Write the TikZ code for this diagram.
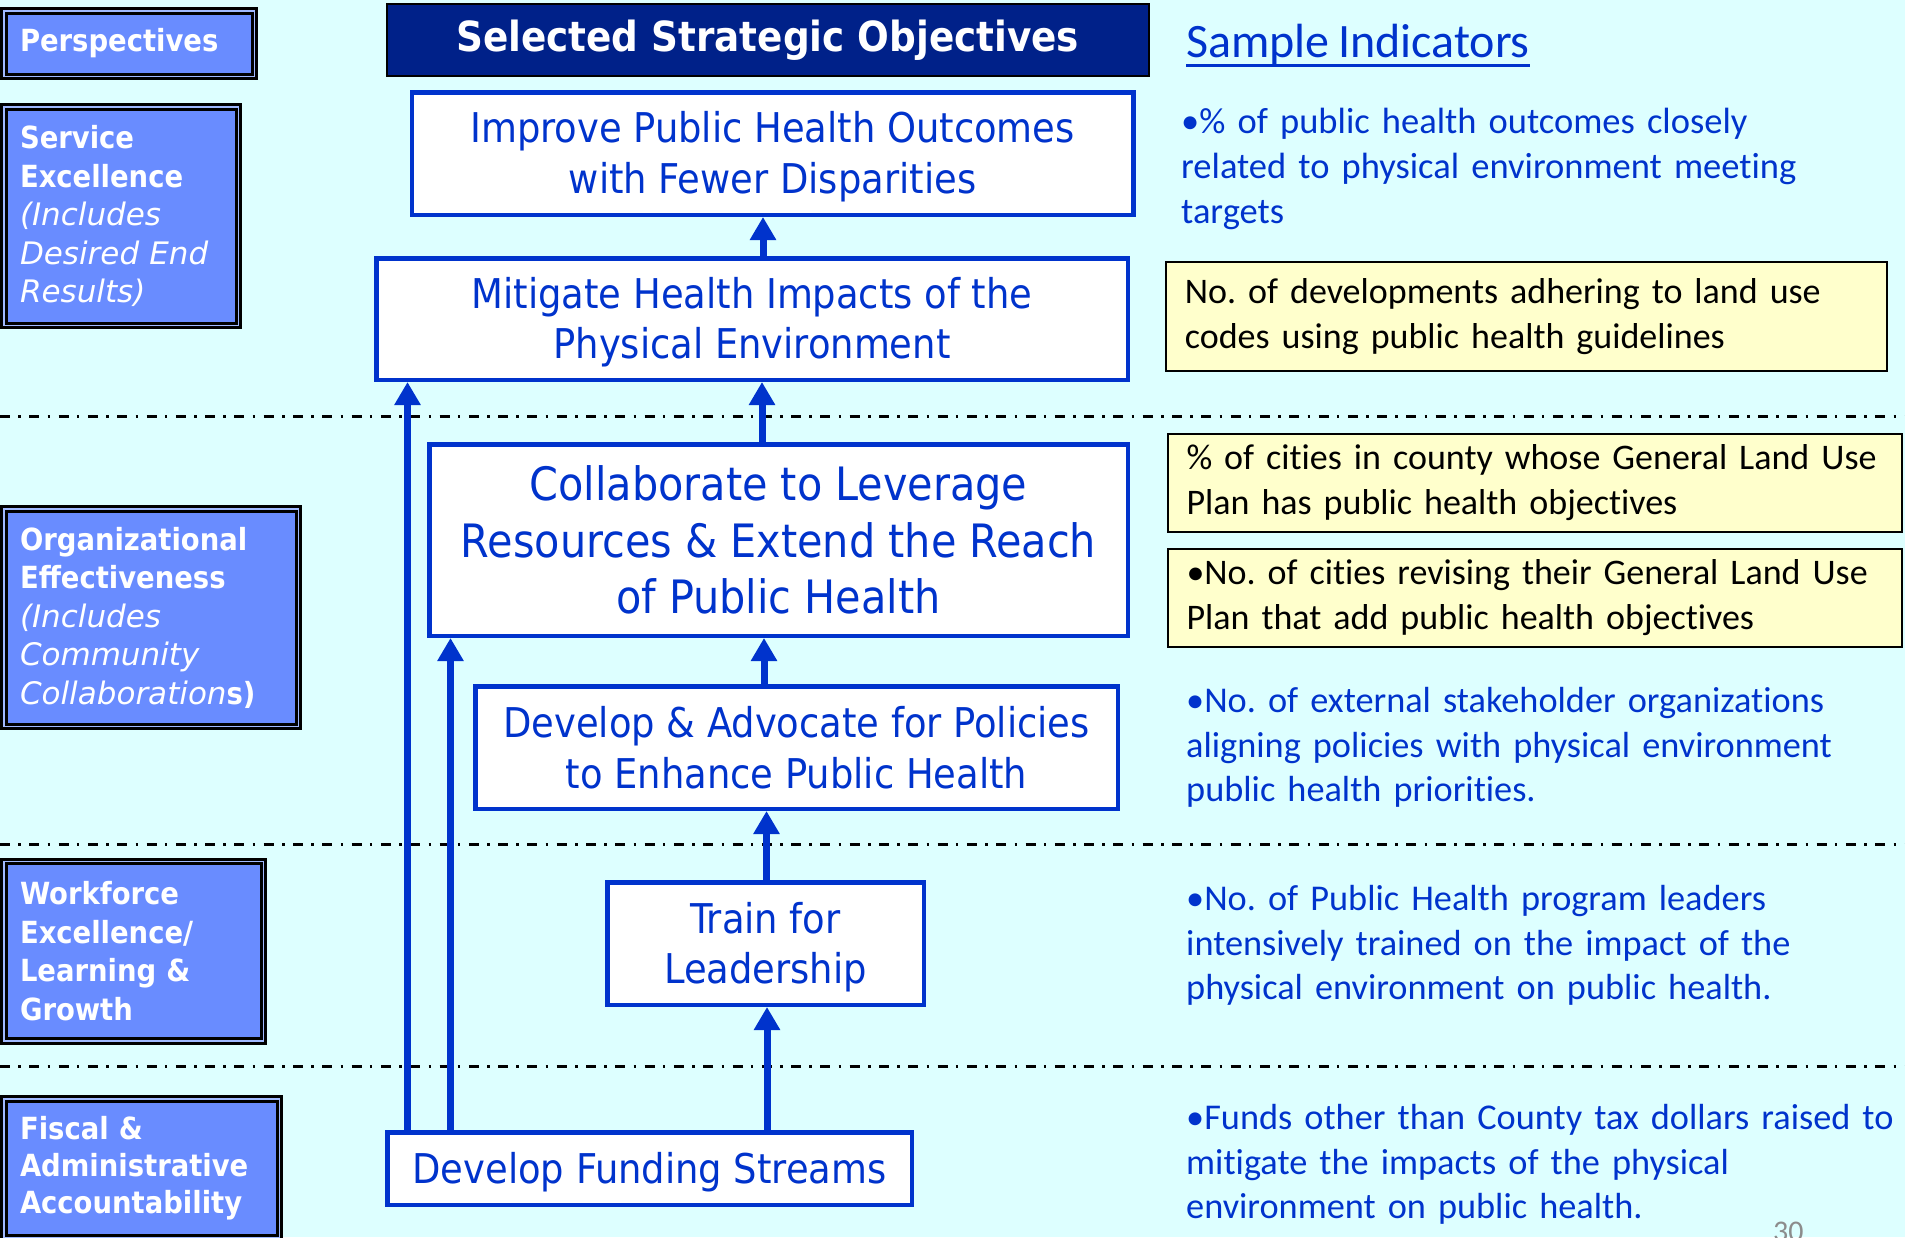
\documentclass[tikz,border=0pt]{standalone}
\usepackage{fontspec}
\usetikzlibrary{arrows.meta}
\newfontfamily\tahfont{DejaVu Sans Condensed}[BoldFont={DejaVu Sans Condensed Bold}]
\newfontfamily\verfont{DejaVu Sans}
\newfontfamily\calfont{Carlito}[Ligatures={NoCommon}, WordSpace=0.78]
\definecolor{bgcyan}{RGB}{221,255,255}
\definecolor{perspfill}{RGB}{105,140,255}
\definecolor{perspgap}{RGB}{160,185,255}
\definecolor{navy}{RGB}{0,33,137}
\definecolor{objblue}{RGB}{0,51,204}
\definecolor{yfill}{RGB}{255,255,204}
\definecolor{pagegray}{RGB}{140,140,140}
\frenchspacing
\begin{document}
\begin{tikzpicture}[x=1pt,y=-1pt,
  persp/.style={draw=black, line width=3pt, double=perspgap, double distance=1.5pt,
    fill=perspfill, text=white, align=left, inner xsep=16.25pt, inner ysep=0pt,
    font=\tahfont\bfseries\fontsize{30.5}{38.5}\selectfont},
  objbox/.style={draw=objblue, line width=4.5pt, fill=white, text=objblue, align=center,
    inner sep=0pt, font=\tahfont\fontsize{41}{50.5}\selectfont},
  ybox/.style={draw=black, line width=2pt, fill=yfill, text=black, align=left,
    inner xsep=18.5pt, inner ysep=0pt, font=\calfont\fontsize{36}{45}\selectfont},
  freetxt/.style={text=objblue, align=left, inner sep=0pt, anchor=north west,
    text width=730pt, font=\calfont\fontsize{36.3}{44.5}\selectfont},
  arr/.style={draw=objblue, line width=7pt, -{Triangle[length=23pt,width=25pt]}},
  sepline/.style={draw=black, line width=3pt, dash pattern=on 10pt off 8.3pt on 2.5pt off 8.5pt}
]
\newcommand\itpart[1]{{\verfont\mdseries\itshape\fontsize{31}{38.5}\selectfont #1}}
% taller first line, lowers the text block a little inside its box
\newcommand\toproom{\rule{0pt}{38pt}}
\useasboundingbox (0,0) rectangle (1905,1237);
\clip (0,0) rectangle (1905,1237);
\fill[bgcyan] (0,0) rectangle (1905,1237);

% band separators
\draw[sepline] (0,416) -- (1905,416);
\draw[sepline] (0,844.5) -- (1905,844.5);
\draw[sepline] (0,1066) -- (1905,1066);

% perspective labels
\node[persp, text width=218pt, minimum width=250.5pt, minimum height=65.5pt] (pPersp) at (129,43.5) {Perspectives};
\node[persp, text width=202pt, minimum width=234.5pt, minimum height=218.5pt] (pService) at (121,216)
  {Service\\Excellence\\\itpart{(Includes}\\\itpart{Desired End}\\\itpart{Results)}};
\node[persp, text width=262pt, minimum width=294.5pt, minimum height=217.5pt] (pOrg) at (151,617.5)
  {Organizational\\Effectiveness\\\itpart{(Includes}\\\itpart{Community}\\\itpart{Collaboration}s)};
\node[persp, text width=227pt, minimum width=259.5pt, minimum height=179.5pt] (pWork) at (133.5,951)
  {Workforce\\Excellence/\\Learning \&\\Growth};
\node[persp, text width=243pt, minimum width=275.5pt, minimum height=138.5pt,
  font=\tahfont\bfseries\fontsize{30.5}{37}\selectfont] (pFiscal) at (141.5,1168)
  {Fiscal \&\\Administrative\\Accountability};

% objectives column
\node[draw=black, line width=2pt, fill=navy, text=white, inner sep=0pt,
  minimum width=762.5pt, minimum height=72.3pt,
  font=\tahfont\bfseries\fontsize{41.5}{48}\selectfont] (head) at (767.75,39.9) {Selected Strategic Objectives};
\node[objbox, minimum width=721.5pt, minimum height=122.5pt] (improve) at (772.5,153.5)
  {\toproom Improve Public Health Outcomes\\with Fewer Disparities};
\node[objbox, minimum width=751.5pt, minimum height=121.5pt] (mitig) at (752,319)
  {\toproom Mitigate Health Impacts of the\\Physical Environment};
\node[objbox, minimum width=698.5pt, minimum height=191.5pt,
  font=\tahfont\fontsize{46}{56.5}\selectfont] (collab) at (778.5,540)
  {Collaborate to Leverage\\Resources \& Extend the Reach\\of Public Health};
\node[objbox, minimum width=642.5pt, minimum height=122.5pt] (advoc) at (796.5,747.5)
  {Develop \& Advocate for Policies\\to Enhance Public Health};
\node[objbox, minimum width=316.5pt, minimum height=122.5pt] (train) at (765.5,943.5)
  {\toproom Train for\\Leadership};
\node[objbox, minimum width=524.5pt, minimum height=72.5pt] (fund) at (649.5,1168.5)
  {\toproom Develop Funding Streams};

% cause-and-effect arrows
\draw[arr] (mitig.north -| 763,0) -- (improve.south -| 763,0);
\draw[arr] (collab.north -| 762,0) -- (mitig.south -| 762,0);
\draw[arr] (advoc.north -| 764,0) -- (collab.south -| 764,0);
\draw[arr] (train.north -| 766.5,0) -- (advoc.south -| 766.5,0);
\draw[arr] (fund.north -| 767,0) -- (train.south -| 767,0);
\draw[arr] (fund.north -| 407.5,0) -- (mitig.south -| 407.5,0);
\draw[arr] (fund.north -| 450.5,0) -- (collab.south -| 450.5,0);

% indicators
\node[anchor=base west, inner sep=0pt, text=objblue, font=\calfont\fontsize{48}{56}\selectfont] (sihead) at (1186,57) {Sample Indicators};
\draw[objblue, line width=3pt] ([yshift=-8pt]sihead.base west) -- ([yshift=-8pt]sihead.base east);

\node[freetxt, font=\calfont\fontsize{36.5}{45}\selectfont] (ind1) at (1181,102)
  {\strut\mbox{•\% of public health outcomes closely}\\\mbox{related to physical environment meeting}\\\mbox{targets}};
\node[ybox, text width=683.6pt, minimum width=720.6pt, minimum height=109pt] (ind2) at (1526.7,316.5)
  {\mbox{No. of developments adhering to land use}\\\mbox{codes using public health guidelines}};
\node[ybox, text width=696.5pt, minimum width=733.5pt, minimum height=98pt] (ind3a) at (1534.75,483)
  {\mbox{\% of cities in county whose General Land Use}\\\mbox{Plan has public health objectives}};
\node[ybox, text width=697pt, minimum width=734pt, minimum height=98pt] (ind3b) at (1535,598)
  {\mbox{•No. of cities revising their General Land Use}\\\mbox{Plan that add public health objectives}};
\node[freetxt] (ind4) at (1186,681.2)
  {\strut\mbox{•No. of external stakeholder organizations}\\\mbox{aligning policies with physical environment}\\\mbox{public health priorities.}};
\node[freetxt] (ind5) at (1186,879.2)
  {\strut\mbox{•No. of Public Health program leaders}\\\mbox{intensively trained on the impact of the}\\\mbox{physical environment on public health.}};
\node[freetxt] (ind6) at (1186,1098.2)
  {\strut\mbox{•Funds other than County tax dollars raised to}\\\mbox{mitigate the impacts of the physical}\\\mbox{environment on public health.}};

\node[anchor=base west, inner sep=0pt, text=pagegray, font=\calfont\fontsize{30}{36}\selectfont] (pgnum) at (1773,1241) {30};
\end{tikzpicture}
\end{document}
